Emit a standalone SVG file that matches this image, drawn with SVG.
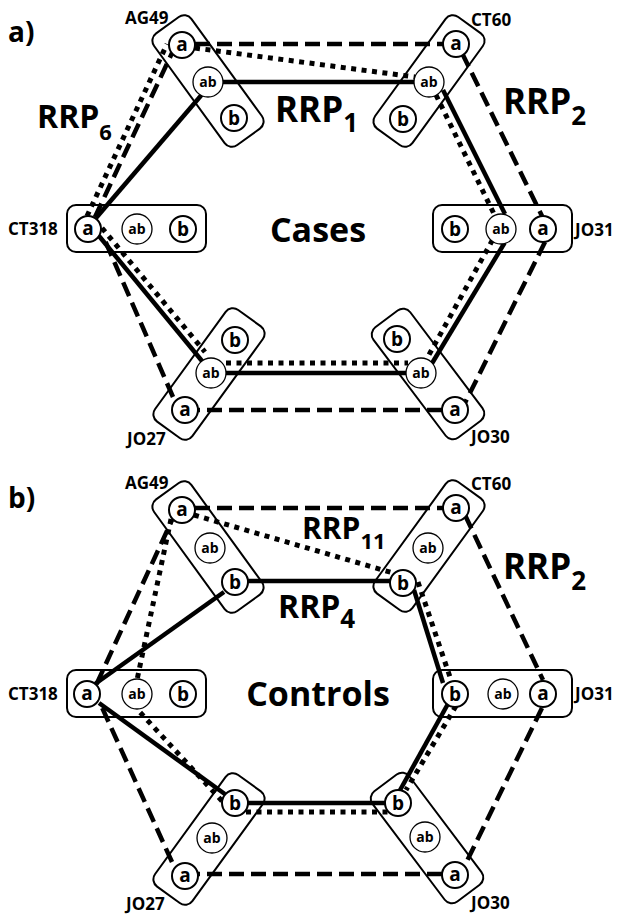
<svg xmlns="http://www.w3.org/2000/svg" width="618" height="914" viewBox="0 0 618 914">
<style>
text{font-family:"Open Sans","Liberation Sans",sans-serif;font-weight:700;fill:#000}
.box{fill:#fff;stroke:#000;stroke-width:2}
.al circle{fill:#fff;stroke:#000;stroke-width:2}
.het circle{fill:#fff;stroke:#000;stroke-width:1.3}
.al text{font-size:19px;text-anchor:middle}
.het text{font-size:14px;text-anchor:middle}
.solid{stroke:#000;stroke-width:4.5;fill:none}
.dash{stroke:#000;stroke-width:4.5;stroke-dasharray:15 7;fill:none}
.dot{stroke:#000;stroke-width:5;stroke-dasharray:5 5.5;fill:none}
.name{font-size:17px}
.panel{font-size:28px}
.title{font-size:34px;text-anchor:middle}
</style>
<rect width="618" height="914" fill="#fff"/>

<!-- ===== Panel a: Cases ===== -->
<g id="panel-a">
  <text class="panel" x="8" y="42">a)</text>
  <text class="title" x="318" y="242">Cases</text>

  <!-- individuals (boxes) -->
  <g id="a-AG49"><rect class="box" x="-69" y="-23" width="138" height="46" rx="9" transform="translate(208,81) rotate(54)"/><text class="name" x="125" y="24">AG49</text></g>
  <g id="a-CT60"><rect class="box" x="-69" y="-23" width="138" height="46" rx="9" transform="translate(429,81) rotate(-54)"/><text class="name" x="471" y="26">CT60</text></g>
  <g id="a-CT318"><rect class="box" x="67" y="205" width="139" height="47" rx="9"/><text class="name" x="8" y="235">CT318</text></g>
  <g id="a-JO31"><rect class="box" x="433" y="205" width="139" height="47" rx="9"/><text class="name" x="575" y="236">JO31</text></g>
  <g id="a-JO27"><rect class="box" x="-69" y="-23" width="138" height="46" rx="9" transform="translate(209,374) rotate(-54)"/><text class="name" x="127" y="445">JO27</text></g>
  <g id="a-JO30"><rect class="box" x="-69" y="-23" width="138" height="46" rx="9" transform="translate(428,374) rotate(53)"/><text class="name" x="471" y="443">JO30</text></g>

  <g id="a-connectors">
    <line class="dash" x1="195" y1="44" x2="443" y2="44"/>
    <line class="dash" x1="462" y1="53" x2="542" y2="216"/>
    <line class="dash" x1="545" y1="242" x2="465" y2="403"/>
    <line class="dash" x1="442" y1="410" x2="198" y2="410"/>
    <line class="dash" x1="173" y1="397" x2="103" y2="236"/>
    <line class="dash" x1="95" y1="217" x2="172" y2="53"/>

    <line class="solid" x1="223" y1="82" x2="414" y2="82"/>
    <line class="solid" x1="443" y1="90" x2="505" y2="214"/>
    <line class="solid" x1="504.5" y1="243" x2="431" y2="365"/>
    <line class="solid" x1="226" y1="373" x2="406" y2="373"/>
    <line class="solid" x1="99" y1="236" x2="202" y2="361"/>
    <line class="solid" x1="96" y1="218" x2="201.5" y2="95"/>

    <line class="dot" x1="195" y1="48" x2="415" y2="77"/>
    <line class="dot" x1="436" y1="95" x2="496" y2="218"/>
    <line class="dot" x1="492.5" y1="240" x2="425.5" y2="361"/>
    <line class="dot" x1="226" y1="363" x2="408" y2="363"/>
    <line class="dot" x1="102" y1="228" x2="205" y2="352"/>
    <line class="dot" x1="87" y1="216" x2="167" y2="44"/>
  </g>

  <!-- alleles -->
  <g id="a-AG49-a" class="al"><circle cx="182" cy="45" r="13"/><text x="182" y="50.5">a</text></g>
  <g id="a-AG49-ab" class="het"><circle cx="208" cy="82" r="15"/><text x="208" y="87">ab</text></g>
  <g id="a-AG49-b" class="al"><circle cx="234" cy="118" r="13"/><text x="234" y="125">b</text></g>

  <g id="a-CT60-a" class="al"><circle cx="456" cy="44" r="13"/><text x="456" y="49.5">a</text></g>
  <g id="a-CT60-ab" class="het"><circle cx="429" cy="82" r="15"/><text x="429" y="87">ab</text></g>
  <g id="a-CT60-b" class="al"><circle cx="403" cy="119" r="13"/><text x="403" y="126">b</text></g>

  <g id="a-CT318-a" class="al"><circle cx="88" cy="229" r="13"/><text x="88" y="234.5">a</text></g>
  <g id="a-CT318-ab" class="het"><circle cx="137" cy="229" r="15"/><text x="137" y="234">ab</text></g>
  <g id="a-CT318-b" class="al"><circle cx="183" cy="229" r="13"/><text x="183" y="236">b</text></g>

  <g id="a-JO31-b" class="al"><circle cx="455" cy="229" r="13"/><text x="455" y="236">b</text></g>
  <g id="a-JO31-ab" class="het"><circle cx="501" cy="229" r="15"/><text x="501" y="234">ab</text></g>
  <g id="a-JO31-a" class="al"><circle cx="543" cy="229" r="13"/><text x="543" y="234.5">a</text></g>

  <g id="a-JO27-b" class="al"><circle cx="235" cy="340" r="13"/><text x="235" y="347">b</text></g>
  <g id="a-JO27-ab" class="het"><circle cx="211" cy="373" r="15"/><text x="211" y="378">ab</text></g>
  <g id="a-JO27-a" class="al"><circle cx="185" cy="410" r="13"/><text x="185" y="415.5">a</text></g>

  <g id="a-JO30-b" class="al"><circle cx="397" cy="339" r="13"/><text x="397" y="346">b</text></g>
  <g id="a-JO30-ab" class="het"><circle cx="421" cy="373" r="15"/><text x="421" y="378">ab</text></g>
  <g id="a-JO30-a" class="al"><circle cx="455" cy="410" r="13"/><text x="455" y="415.5">a</text></g>

  <!-- haplotype labels -->
  <text x="37" y="128" font-size="32">RRP<tspan dy="12" font-size="22">6</tspan></text>
  <text x="275" y="122" font-size="35">RRP<tspan dy="10" font-size="26">1</tspan></text>
  <text x="503" y="114" font-size="35">RRP<tspan dy="11" font-size="26">2</tspan></text>
</g>

<!-- ===== Panel b: Controls ===== -->
<g id="panel-b">
  <text class="panel" x="8" y="508">b)</text>
  <text class="title" x="318" y="706">Controls</text>

  <g id="b-AG49"><rect class="box" x="-69" y="-23" width="138" height="46" rx="9" transform="translate(208,547) rotate(54)"/><text class="name" x="125" y="489">AG49</text></g>
  <g id="b-CT60"><rect class="box" x="-69" y="-23" width="138" height="46" rx="9" transform="translate(429,546) rotate(-54)"/><text class="name" x="471" y="490">CT60</text></g>
  <g id="b-CT318"><rect class="box" x="67" y="670" width="139" height="47" rx="9"/><text class="name" x="8" y="700">CT318</text></g>
  <g id="b-JO31"><rect class="box" x="433" y="670" width="139" height="47" rx="9"/><text class="name" x="575" y="700">JO31</text></g>
  <g id="b-JO27"><rect class="box" x="-69" y="-23" width="138" height="46" rx="9" transform="translate(209,839) rotate(-54)"/><text class="name" x="126" y="910">JO27</text></g>
  <g id="b-JO30"><rect class="box" x="-69" y="-23" width="138" height="46" rx="9" transform="translate(427,838) rotate(53)"/><text class="name" x="471" y="909">JO30</text></g>

  <g id="b-connectors">
    <line class="dash" x1="195" y1="508" x2="443" y2="508"/>
    <line class="dash" x1="465" y1="515" x2="543" y2="680"/>
    <line class="dash" x1="542" y1="708" x2="466" y2="863"/>
    <line class="dash" x1="442" y1="874" x2="198" y2="874"/>
    <line class="dash" x1="172" y1="862" x2="100" y2="703"/>
    <line class="dash" x1="96.6" y1="684" x2="172" y2="520"/>

    <line class="solid" x1="248" y1="581" x2="390" y2="581"/>
    <line class="solid" x1="414" y1="590" x2="443" y2="683"/>
    <line class="solid" x1="449" y1="702" x2="399" y2="792"/>
    <line class="solid" x1="248" y1="803" x2="385" y2="803"/>
    <line class="solid" x1="224.8" y1="794" x2="99" y2="703"/>
    <line class="solid" x1="95" y1="684" x2="224" y2="592"/>

    <line class="dot" x1="194" y1="515" x2="393" y2="573"/>
    <line class="dot" x1="418" y1="582" x2="452" y2="683"/>
    <line class="dot" x1="456" y1="706" x2="406" y2="790"/>
    <line class="dot" x1="246" y1="812" x2="388" y2="812"/>
    <line class="dot" x1="222" y1="801" x2="137" y2="709"/>
    <line class="dot" x1="171" y1="519" x2="137" y2="680"/>
  </g>

  <g id="b-AG49-a" class="al"><circle cx="182" cy="510" r="13"/><text x="182" y="515.5">a</text></g>
  <g id="b-AG49-ab" class="het"><circle cx="210" cy="548" r="15"/><text x="210" y="553">ab</text></g>
  <g id="b-AG49-b" class="al"><circle cx="235" cy="582" r="13"/><text x="235" y="589">b</text></g>

  <g id="b-CT60-a" class="al"><circle cx="456" cy="508" r="13"/><text x="456" y="513.5">a</text></g>
  <g id="b-CT60-ab" class="het"><circle cx="428" cy="548" r="15"/><text x="428" y="553">ab</text></g>
  <g id="b-CT60-b" class="al"><circle cx="403" cy="583" r="13"/><text x="403" y="590">b</text></g>

  <g id="b-CT318-a" class="al"><circle cx="87" cy="694" r="13"/><text x="87" y="699.5">a</text></g>
  <g id="b-CT318-ab" class="het"><circle cx="137" cy="694" r="15"/><text x="137" y="699">ab</text></g>
  <g id="b-CT318-b" class="al"><circle cx="183" cy="694" r="13"/><text x="183" y="701">b</text></g>

  <g id="b-JO31-b" class="al"><circle cx="455" cy="694" r="13"/><text x="455" y="701">b</text></g>
  <g id="b-JO31-ab" class="het"><circle cx="503" cy="694" r="15"/><text x="503" y="699">ab</text></g>
  <g id="b-JO31-a" class="al"><circle cx="543" cy="694" r="13"/><text x="543" y="699.5">a</text></g>

  <g id="b-JO27-b" class="al"><circle cx="235" cy="803" r="13"/><text x="235" y="810">b</text></g>
  <g id="b-JO27-ab" class="het"><circle cx="212" cy="838" r="15"/><text x="212" y="843">ab</text></g>
  <g id="b-JO27-a" class="al"><circle cx="185" cy="876" r="13"/><text x="185" y="881.5">a</text></g>

  <g id="b-JO30-b" class="al"><circle cx="398" cy="803" r="13"/><text x="398" y="810">b</text></g>
  <g id="b-JO30-ab" class="het"><circle cx="425" cy="837" r="15"/><text x="425" y="842">ab</text></g>
  <g id="b-JO30-a" class="al"><circle cx="455" cy="875" r="13"/><text x="455" y="880.5">a</text></g>

  <text x="302" y="539" font-size="30">RRP<tspan dy="10" font-size="22">11</tspan></text>
  <text x="278" y="618" font-size="32">RRP<tspan dy="10" font-size="26">4</tspan></text>
  <text x="503" y="579" font-size="35">RRP<tspan dy="11" font-size="26">2</tspan></text>
</g>
</svg>
